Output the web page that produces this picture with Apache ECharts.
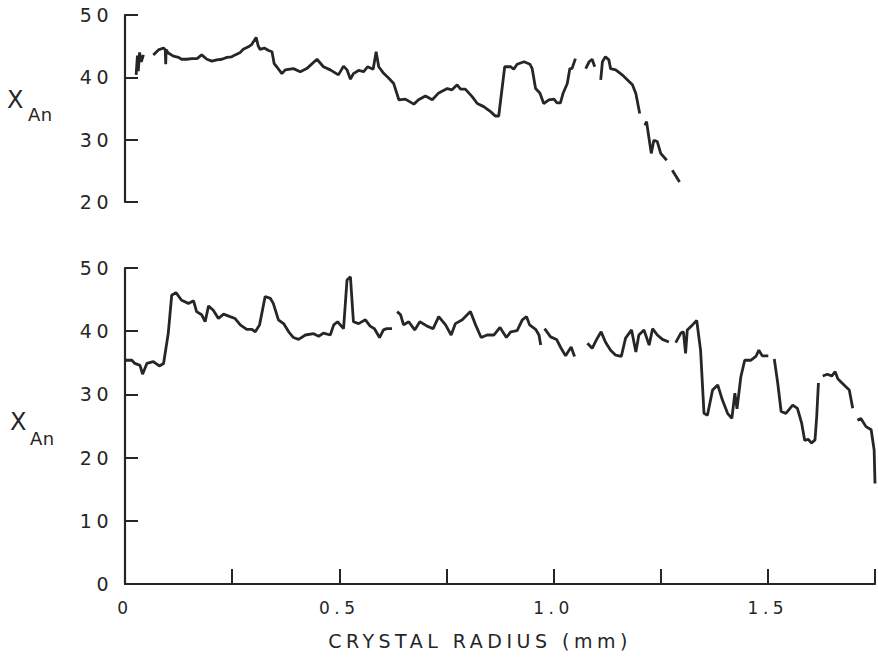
<!DOCTYPE html>
<html>
<head>
<meta charset="utf-8">
<script src="https://cdn.jsdelivr.net/npm/echarts@6/dist/echarts.min.js"></script>
<style>
  html, body { margin: 0; padding: 0; background: #fff; }
  #main { width: 878px; height: 667px; }
  /* the lettering on the original is widely spaced */
  #main text { letter-spacing: 4.5px; }
  #main text[style*="18px"] { letter-spacing: 0.5px; }
</style>
</head>
<body>
<div id="main"></div>
<script>
// upper profile, null = break in the trace
var upperRadius = [0.026, 0.029, 0.031, 0.034, 0.038, 0.043, null,
  0.066, 0.078, 0.090, 0.094, 0.095, 0.096, 0.101, 0.113, 0.125, 0.132, 0.144, 0.156, 0.168, 0.179,
  0.191, 0.203, 0.214, 0.226, 0.238, 0.249, 0.257, 0.269, 0.276, 0.288, 0.296, 0.306, 0.311, 0.315,
  0.325, 0.335, 0.343, 0.348, 0.354, 0.366, 0.374, 0.393, 0.409, 0.424, 0.448, 0.463, 0.479, 0.498,
  0.510, 0.518, 0.526, 0.533, 0.545, 0.557, 0.566, 0.579, 0.586, 0.592, 0.604, 0.615, 0.627, 0.639,
  0.654, 0.674, 0.685, 0.701, 0.717, 0.732, 0.752, 0.763, 0.775, 0.783, 0.794, 0.810, 0.822, 0.837,
  0.853, 0.864, 0.872, 0.886, 0.900, 0.907, 0.915, 0.931, 0.945, 0.950, 0.958, 0.968, 0.977, 0.989,
  1.001, 1.008, 1.016, 1.022, 1.032, 1.038, 1.043, 1.051, null,
  1.075, 1.083, 1.090, 1.096, null,
  1.110, 1.114, 1.121, 1.129, 1.133, 1.145, 1.160, 1.172, 1.184, 1.192, 1.201, null,
  1.213, 1.217, 1.221, 1.228, 1.234, 1.242, 1.250, 1.264, null,
  1.277, 1.294];
var upperAn = [40.4, 43.5, 41.0, 44.0, 42.5, 43.6, null,
  43.6, 44.4, 44.7, 44.4, 42.1, 44.4, 43.9, 43.4, 43.2, 42.9, 42.9, 43.0, 43.0, 43.6,
  42.9, 42.6, 42.8, 42.9, 43.2, 43.3, 43.6, 44.0, 44.5, 44.9, 45.3, 46.4, 45.0, 44.5,
  44.7, 44.3, 44.1, 42.2, 41.7, 40.6, 41.2, 41.4, 40.9, 41.4, 42.9, 41.7, 41.2, 40.4,
  41.8, 41.2, 39.7, 40.6, 41.1, 40.9, 41.7, 41.3, 44.1, 41.7, 40.6, 39.9, 39.0, 36.4,
  36.5, 35.7, 36.4, 37.0, 36.4, 37.5, 38.2, 38.0, 38.8, 38.1, 38.1, 36.9, 35.8, 35.3,
  34.5, 33.8, 33.8, 41.7, 41.7, 41.3, 42.1, 42.5, 42.1, 41.4, 38.2, 37.5, 35.8, 36.4,
  36.5, 35.9, 35.9, 37.4, 39.0, 41.4, 41.4, 43.0, null,
  41.4, 42.5, 42.9, 41.7, null,
  39.6, 42.5, 43.3, 42.8, 41.4, 41.2, 40.4, 39.6, 38.8, 37.4, 34.2, null,
  32.3, 32.9, 31.0, 27.8, 29.9, 29.7, 27.8, 26.7, null,
  25.1, 23.2];

// lower profile
var lowerRadius = [0, 0.016, 0.023, 0.035, 0.041, 0.051, 0.066, 0.080, 0.090, 0.101, 0.109, 0.119,
  0.132, 0.148, 0.160, 0.167, 0.179, 0.187, 0.195, 0.206, 0.218, 0.230, 0.245, 0.257, 0.269, 0.284,
  0.296, 0.304, 0.314, 0.327, 0.339, 0.346, 0.358, 0.370, 0.382, 0.393, 0.405, 0.421, 0.440, 0.452,
  0.463, 0.479, 0.487, 0.496, 0.510, 0.518, 0.526, 0.533, 0.545, 0.561, 0.572, 0.582, 0.594, 0.603,
  0.611, 0.623, null,
  0.635, 0.643, 0.650, 0.662, 0.676, 0.688, 0.705, 0.719, 0.732, 0.748, 0.761, 0.771, 0.787, 0.806,
  0.818, 0.831, 0.845, 0.861, 0.875, 0.890, 0.900, 0.915, 0.927, 0.937, 0.944, 0.958, 0.966, 0.970, null,
  0.979, 0.993, 1.007, 1.016, 1.028, 1.041, 1.049, null,
  1.079, 1.090, 1.102, 1.111, 1.121, 1.133, 1.145, 1.158, 1.168, 1.182, 1.192, 1.199, 1.211, 1.223,
  1.231, 1.242, 1.254, 1.269, null,
  1.285, 1.297, 1.303, 1.308, 1.312, 1.324, 1.334, 1.343, 1.351, 1.359, 1.371, 1.383, 1.394, 1.406,
  1.416, 1.423, 1.428, 1.437, 1.446, 1.460, 1.472, 1.479, 1.487, 1.501, null,
  1.515, 1.523, 1.531, 1.542, 1.558, 1.569, 1.579, 1.586, 1.594, 1.602, 1.610, 1.614, 1.618, null,
  1.628, 1.639, 1.649, 1.657, 1.663, 1.673, 1.682, 1.690, 1.698, null,
  1.709, 1.717, 1.729, 1.741, 1.748, 1.750];
var lowerAn = [35.4, 35.4, 34.9, 34.6, 33.2, 34.9, 35.2, 34.5, 34.9, 39.7, 45.7, 46.1,
  44.9, 44.4, 44.8, 43.1, 42.6, 41.5, 44.0, 43.3, 42.0, 42.7, 42.3, 42.0, 41.0, 40.3,
  40.3, 39.9, 41.0, 45.5, 45.2, 44.4, 41.8, 41.2, 39.9, 39.0, 38.7, 39.4, 39.6, 39.2,
  39.7, 39.4, 41.0, 41.5, 40.4, 48.1, 48.6, 41.5, 41.2, 41.8, 40.8, 40.4, 39.0, 40.2,
  40.4, 40.4, null,
  43.1, 42.6, 41.0, 41.5, 40.2, 41.5, 40.8, 40.4, 42.3, 41.0, 39.4, 41.2, 41.8, 43.1,
  41.0, 39.0, 39.4, 39.4, 40.6, 39.0, 39.9, 40.1, 41.8, 42.3, 41.0, 40.3, 39.4, 37.8, null,
  40.4, 39.1, 38.7, 37.5, 36.1, 37.5, 36.0, null,
  38.1, 37.3, 38.9, 39.9, 38.3, 37.0, 36.2, 36.0, 38.9, 40.2, 36.7, 39.4, 40.2, 37.8,
  40.4, 39.4, 38.7, 38.3, null,
  38.2, 39.7, 39.9, 36.5, 40.2, 41.0, 41.7, 37.0, 27.0, 26.7, 30.7, 31.5, 29.1, 27.0,
  26.2, 30.2, 27.7, 32.8, 35.4, 35.4, 36.0, 37.0, 36.1, 36.1, null,
  35.6, 31.8, 27.3, 27.0, 28.3, 27.8, 25.4, 22.7, 22.9, 22.3, 22.8, 26.5, 31.8, null,
  32.9, 33.2, 32.9, 33.6, 32.5, 31.8, 31.2, 30.7, 27.8, null,
  25.9, 26.2, 24.9, 24.4, 21.2, 15.9];

var upperTicks = [20, 30, 40, 50];
var lowerTicks = [0, 10, 20, 30, 40, 50];
var radiusLabels = { "0": "0", "0.5": "0.5", "1": "1.0", "1.5": "1.5" };

function pairs(xs, ys) {
  return xs.map(function (x, i) { return [x, ys[i]]; });
}

var ink = "#262626";
var font = "DejaVu Sans";

var chart = echarts.init(document.getElementById("main"), null, { renderer: "svg" });

var option = {
  animation: false,
  backgroundColor: "#fff",
  grid: [
    { left: 125, right: 3, top: 15, height: 187 },
    { left: 125, right: 3, top: 268, height: 316 }
  ],
  xAxis: [
    { type: "value", gridIndex: 0, min: 0, max: 1.75, show: false },
    {
      type: "value", gridIndex: 1, min: 0, max: 1.75, interval: 0.25,
      name: "CRYSTAL RADIUS (mm)", nameLocation: "middle", nameGap: 47,
      nameTextStyle: { fontFamily: font, fontSize: 19, color: ink, padding: [0, 40, 0, 0] },
      axisLine: { show: true, lineStyle: { color: ink, width: 2.2 } },
      axisTick: { show: true, inside: true, length: 15, lineStyle: { color: ink, width: 2 } },
      splitLine: { show: false },
      axisLabel: {
        margin: 15, fontFamily: font, fontSize: 17, color: ink,
        formatter: function (v) {
          var k = String(Math.round(v * 100) / 100);
          return radiusLabels[k] !== undefined ? radiusLabels[k] : "";
        }
      }
    }
  ],
  yAxis: [
    {
      type: "value", gridIndex: 0, min: upperTicks[0], max: upperTicks[upperTicks.length - 1], interval: 10,
      axisLine: { show: true, lineStyle: { color: ink, width: 2.2 } },
      axisTick: { show: true, inside: true, length: 13, lineStyle: { color: ink, width: 2 } },
      splitLine: { show: false },
      axisLabel: { margin: 12, fontFamily: font, fontSize: 19, color: ink }
    },
    {
      type: "value", gridIndex: 1, min: lowerTicks[0], max: lowerTicks[lowerTicks.length - 1], interval: 10,
      axisLine: { show: true, lineStyle: { color: ink, width: 2.2 } },
      axisTick: { show: true, inside: true, length: 13, lineStyle: { color: ink, width: 2 } },
      splitLine: { show: false },
      axisLabel: { margin: 12, fontFamily: font, fontSize: 19, color: ink }
    }
  ],
  graphic: [
    { type: "text", left: 7, top: 88, style: { text: "X", font: "24px " + font, fill: ink } },
    { type: "text", left: 28, top: 105, style: { text: "An", font: "18px " + font, fill: ink } },
    { type: "text", left: 10, top: 410, style: { text: "X", font: "24px " + font, fill: ink } },
    { type: "text", left: 30, top: 429, style: { text: "An", font: "18px " + font, fill: ink } }
  ],
  series: [
    {
      type: "line", xAxisIndex: 0, yAxisIndex: 0,
      data: pairs(upperRadius, upperAn),
      showSymbol: false, symbol: "none", connectNulls: false,
      lineStyle: { color: ink, width: 2.8 }
    },
    {
      type: "line", xAxisIndex: 1, yAxisIndex: 1,
      data: pairs(lowerRadius, lowerAn),
      showSymbol: false, symbol: "none", connectNulls: false,
      lineStyle: { color: ink, width: 2.8 }
    }
  ]
};

chart.setOption(option);
</script>
</body>
</html>
